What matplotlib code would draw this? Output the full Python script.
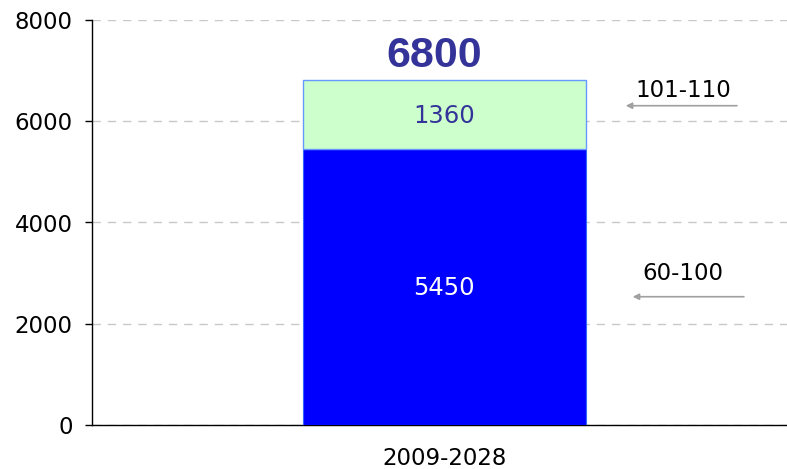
import matplotlib
matplotlib.use("Agg")
import matplotlib.pyplot as plt

plt.rcParams['font.family'] = ['DejaVu Sans']

categories = ["2009-2028"]
low_vals = [5450]      # 60-100
high_vals = [1360]     # 101-110
total_label = "6800"
series_names = ["60-100", "101-110"]
yticks = [0, 2000, 4000, 6000, 8000]

fig = plt.figure(figsize=(7.87, 4.69), dpi=100)
ax = fig.add_axes([92/787, (469-425)/469, 695/787, 405/469])

x = [0]
ax.bar(x, low_vals, width=0.407, color="#0000FF", edgecolor="#3366FF", linewidth=0.8, zorder=3)
ax.bar(x, high_vals, bottom=low_vals, width=0.407, color="#CCFFCC", edgecolor="#6699FF", linewidth=1.0, zorder=3)

ax.set_xlim(-0.507, 0.493)
ax.set_ylim(0, 8000)
ax.set_yticks(yticks)
ax.set_yticklabels([str(v) for v in yticks], fontsize=16.5)
ax.set_xticks(x)
ax.set_xticklabels(categories, fontsize=16.5)
ax.tick_params(axis='x', length=0, pad=16)
ax.tick_params(axis='y', length=5, width=1, direction='out', pad=9)

for s in ['top', 'right']:
    ax.spines[s].set_visible(False)
ax.spines['left'].set_linewidth(1)
ax.spines['bottom'].set_linewidth(1)

ax.yaxis.grid(True, linestyle=(0, (6, 5)), color="#C8C8C8", linewidth=1)
ax.set_axisbelow(True)

# segment labels (baseline-anchored)
ax.text(0, 2568, str(low_vals[0]), ha='center', va='baseline', color='white', fontsize=17.5, zorder=4)
ax.text(0, 5965, str(high_vals[0]), ha='center', va='baseline', color='#333399', fontsize=17.5, zorder=4)
ax.text(-0.014, 7072, total_label, ha='center', va='baseline', color='#333399',
        fontsize=31, fontweight='bold', family='Liberation Sans', zorder=4)

# side labels with arrows
arrow_props = dict(arrowstyle='-|>', color='#A0A0A0', lw=1.2, mutation_scale=9)
ax.annotate("", xy=(0.764, 6307), xytext=(0.932, 6307), xycoords=('axes fraction', 'data'),
            textcoords=('axes fraction', 'data'), arrowprops=arrow_props)
ax.annotate("", xy=(0.774, 2534), xytext=(0.942, 2534), xycoords=('axes fraction', 'data'),
            textcoords=('axes fraction', 'data'), arrowprops=arrow_props)
ax.text(0.851, 6485, series_names[1], transform=ax.get_yaxis_transform(), ha='center', va='baseline', fontsize=16.5)
ax.text(0.850, 2864, series_names[0], transform=ax.get_yaxis_transform(), ha='center', va='baseline', fontsize=16.5)

fig.savefig("out.png", dpi=100)
